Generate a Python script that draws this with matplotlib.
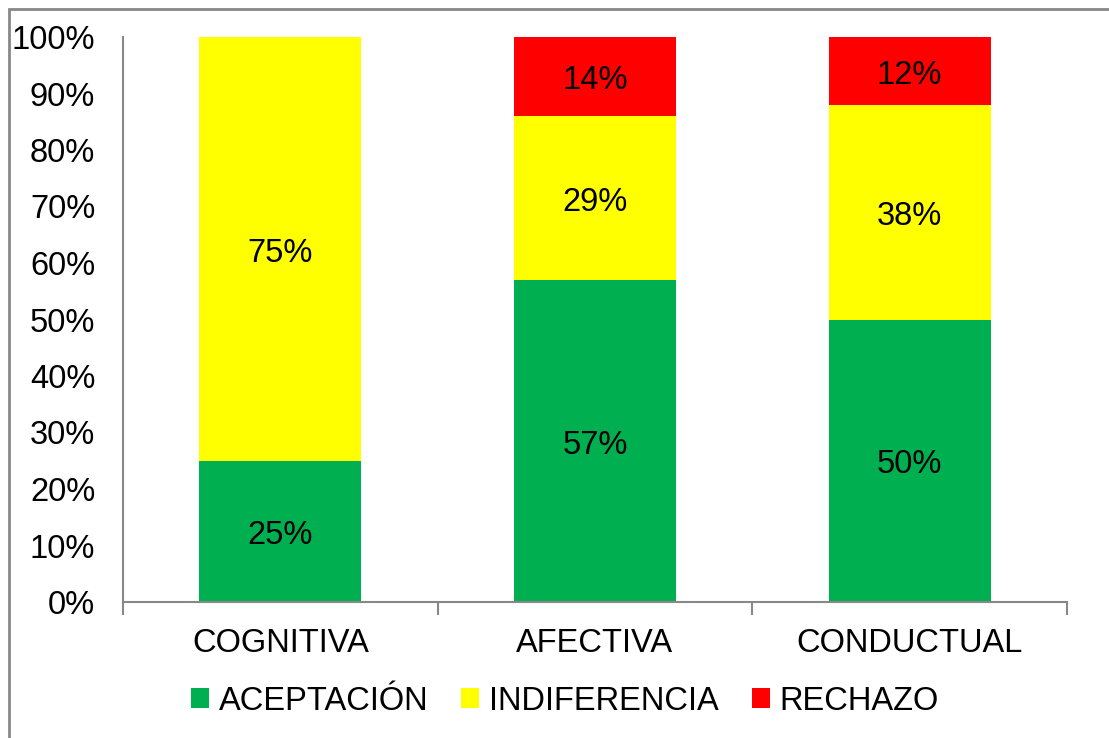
import matplotlib
matplotlib.use('Agg')
import matplotlib.pyplot as plt
from matplotlib.patches import Patch, Rectangle
from matplotlib.ticker import PercentFormatter

# Data
categories = ["COGNITIVA", "AFECTIVA", "CONDUCTUAL"]
aceptacion = [25, 57, 50]
indiferencia = [75, 29, 38]
rechazo = [0, 14, 12]
series_names = ["ACEPTACIÓN", "INDIFERENCIA", "RECHAZO"]
colors = ["#00B050", "#FFFF00", "#FF0000"]

plt.rcParams['font.family'] = ['Liberation Sans', 'DejaVu Sans']
fs = 23.5

fig = plt.figure(figsize=(11.09, 7.38), dpi=100)
ax = fig.add_axes([123 / 1109, 1 - 602 / 738, (1067 - 123) / 1109, (602 - 37) / 738])

x = range(len(categories))
width = 0.515
bottom = [0] * len(categories)
for vals, col in zip([aceptacion, indiferencia, rechazo], colors):
    bars = ax.bar(x, vals, width, bottom=bottom, color=col, zorder=2)
    for b, v, b0 in zip(bars, vals, bottom):
        if v > 0:
            ax.annotate(f"{v}%", (b.get_x() + b.get_width() / 2, b0 + v / 2),
                        xytext=(0, -3), textcoords='offset points',
                        ha='center', va='center', fontsize=fs)
    bottom = [a + v for a, v in zip(bottom, vals)]

ax.set_xlim(-0.5, 2.5)
ax.set_ylim(0, 100)
ax.set_yticks(range(0, 101, 10))
ax.yaxis.set_major_formatter(PercentFormatter(decimals=0))
ax.set_xticks(list(x))
ax.set_xticklabels(categories)
ax.set_xticks([-0.5, 0.5, 1.5, 2.5], minor=True)
ax.tick_params(axis='x', which='major', length=0, pad=19, labelsize=fs)
ax.tick_params(axis='x', which='minor', length=9, width=1.5, color='#888888')
ax.tick_params(axis='y', length=0, pad=20, labelsize=fs)

for s in ['top', 'right']:
    ax.spines[s].set_visible(False)
for s in ['left', 'bottom']:
    ax.spines[s].set_color('#888888')
    ax.spines[s].set_linewidth(1.5)

handles = [Patch(facecolor=c, edgecolor='none') for c in colors]
fig.legend(handles, series_names, loc='center', ncol=3,
           bbox_to_anchor=(565 / 1109, 1 - 701 / 738), frameon=False,
           fontsize=fs, handlelength=0.55, handleheight=0.55,
           handletextpad=0.3, columnspacing=1.0)

# outer chart border
fig.patches.append(Rectangle((9 / 1109, -0.1), 1.2, 1 - 9 / 738 + 0.1,
                             transform=fig.transFigure, fill=False,
                             edgecolor='#888888', linewidth=2))

fig.savefig("out.png", dpi=100)
